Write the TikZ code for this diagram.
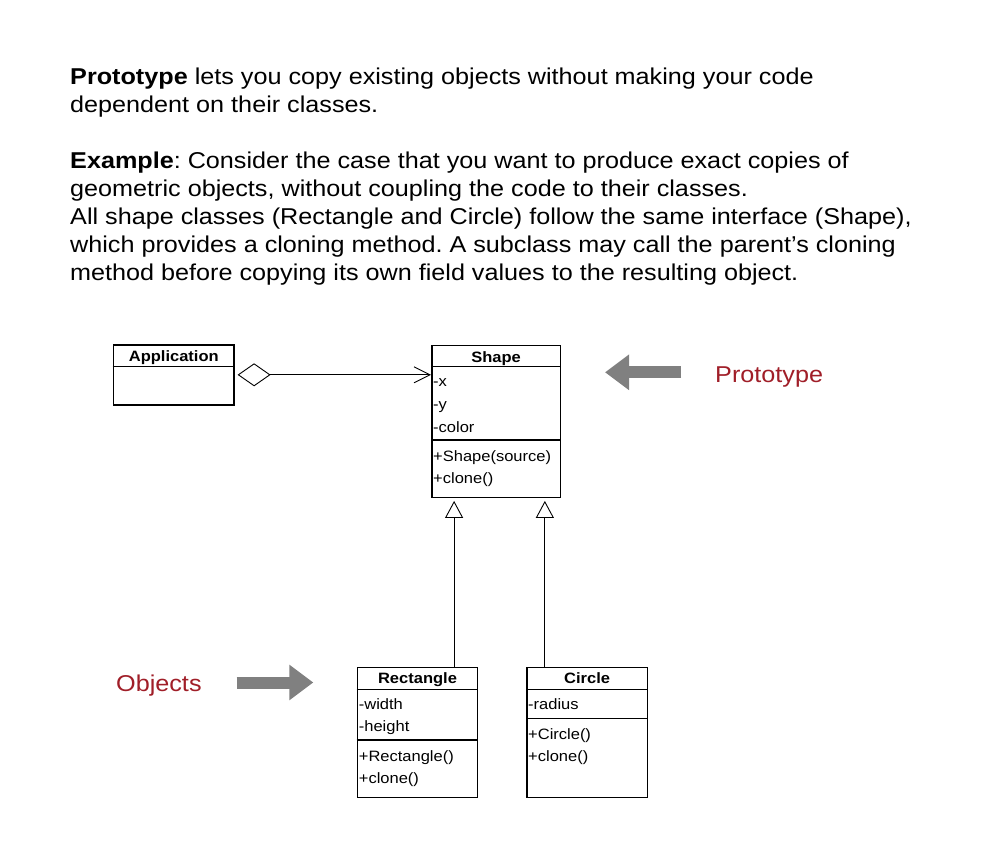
\documentclass[tikz,border=0pt]{standalone}
\usepackage{fontspec}
\setmainfont{Liberation Sans}[FakeStretch=1.1]
\usetikzlibrary{arrows.meta}
\definecolor{labred}{RGB}{160,30,40}
\definecolor{arrgray}{RGB}{128,128,128}
\frenchspacing
\begin{document}
\begin{tikzpicture}[x=1pt,y=-1pt,
  body/.style={anchor=base west, inner sep=0pt, font=\fontsize{22.9}{28}\selectfont},
  redlabel/.style={body, text=labred},
  umlbox/.style={draw, line width=1.6pt, anchor=north west, inner sep=0pt},
  umltxt/.style={anchor=base west, inner sep=0pt, font=\fontsize{15}{18}\selectfont},
  umlhead/.style={anchor=base, inner sep=0pt, font=\fontsize{15}{18}\selectfont\bfseries},
  divider/.style={line width=1.4pt},
  assoc/.style={line width=0.9pt, {Diamond[open,length=33pt,width=23pt]}-{Straight Barb[length=16pt,width=16pt]}},
  inherit/.style={line width=0.9pt, -{Triangle[open,length=17pt,width=18pt]}},
  bigarrow/.style={arrgray, line width=12pt, -{Triangle[length=24pt,width=34pt]}}
]
\fill[white] (0,0) rectangle (992,848);
\useasboundingbox (0,0) rectangle (992,848);

% body text
\node[body] (t1) at (70,85) {\textbf{Prototype} lets you copy existing objects without making your code};
\node[body] (t2) at (70,113) {dependent on their classes.};
\node[body] (t3) at (70,168) {\textbf{Example}: Consider the case that you want to produce exact copies of};
\node[body] (t4) at (70,196) {geometric objects, without coupling the code to their classes.};
\node[body] (t5) at (70,224) {All shape classes (Rectangle and Circle) follow the same interface (Shape),};
\node[body] (t6) at (70,252) {which provides a cloning method. A subclass may call the parent’s cloning};
\node[body] (t7) at (70,280) {method before copying its own field values to the resulting object.};

% Application
\node[umlbox, minimum width=120.6pt, minimum height=60pt] (app) at (112.7,344) {};
\node[umlhead] (apph) at ([yshift=-17.8pt]app.north) {Application};
\draw[divider] ([yshift=-22.7pt]app.north west) -- ([yshift=-22.7pt]app.north east);

% Shape
\node[umlbox, minimum width=128.5pt, minimum height=152pt] (shape) at (431,344.7) {};
\node[umlhead] (shapeh) at ([yshift=-17.3pt]shape.north) {Shape};
\draw[divider] ([yshift=-22pt]shape.north west) -- ([yshift=-22pt]shape.north east);
\draw[divider] ([yshift=-95.3pt]shape.north west) -- ([yshift=-95.3pt]shape.north east);
\node[umltxt] (s1) at ([xshift=2pt,yshift=-41.3pt]shape.north west) {-x};
\node[umltxt] (s2) at ([xshift=2pt,yshift=-64.3pt]shape.north west) {-y};
\node[umltxt] (s3) at ([xshift=2pt,yshift=-87.3pt]shape.north west) {-color};
\node[umltxt] (s4) at ([xshift=2pt,yshift=-116.3pt]shape.north west) {+Shape(source)};
\node[umltxt] (s5) at ([xshift=2pt,yshift=-138.3pt]shape.north west) {+clone()};

% Rectangle
\node[umlbox, minimum width=120pt, minimum height=130pt] (rect) at (356.7,666.7) {};
\node[umlhead] (recth) at ([yshift=-17pt]rect.north) {Rectangle};
\draw[divider] ([yshift=-22.6pt]rect.north west) -- ([yshift=-22.6pt]rect.north east);
\draw[divider] ([yshift=-73.3pt]rect.north west) -- ([yshift=-73.3pt]rect.north east);
\node[umltxt] (r1) at ([xshift=2pt,yshift=-42.3pt]rect.north west) {-width};
\node[umltxt] (r2) at ([xshift=2pt,yshift=-65pt]rect.north west) {-height};
\node[umltxt] (r3) at ([xshift=2pt,yshift=-95pt]rect.north west) {+Rectangle()};
\node[umltxt] (r4) at ([xshift=2pt,yshift=-116.3pt]rect.north west) {+clone()};

% Circle
\node[umlbox, minimum width=120.7pt, minimum height=130pt] (circ) at (526,666.7) {};
\node[umlhead] (circh) at ([yshift=-17pt]circ.north) {Circle};
\draw[divider] ([yshift=-22.6pt]circ.north west) -- ([yshift=-22.6pt]circ.north east);
\draw[divider] ([yshift=-51.6pt]circ.north west) -- ([yshift=-51.6pt]circ.north east);
\node[umltxt] (c1) at ([xshift=2pt,yshift=-42.3pt]circ.north west) {-radius};
\node[umltxt] (c2) at ([xshift=2pt,yshift=-72.3pt]circ.north west) {+Circle()};
\node[umltxt] (c3) at ([xshift=2pt,yshift=-95pt]circ.north west) {+clone()};

% association
\draw[assoc] ([xshift=2.7pt]app.east) -- (app.east -| shape.west);

% generalisation
\coordinate (rtop) at ([xshift=36.6pt]rect.north);
\coordinate (rbot) at (rtop |- shape.south);
\draw[inherit] (rtop) -- ([yshift=-2.6pt]rbot);
\coordinate (ctop) at ([xshift=-42.3pt]circ.north);
\coordinate (cbot) at (ctop |- shape.south);
\draw[inherit] (ctop) -- ([yshift=-2.6pt]cbot);

% labels and big arrows
\coordinate (pa1) at (681,372.3);
\coordinate (pa2) at (605,372.3);
\draw[bigarrow] (pa1) -- (pa2);
\node[redlabel] (proto) at (715,382) {Prototype};
\coordinate (oa1) at (236.7,682.5);
\coordinate (oa2) at (313.3,682.5);
\draw[bigarrow] (oa1) -- (oa2);
\node[redlabel] (objs) at (116,691) {Objects};
\end{tikzpicture}
\end{document}
